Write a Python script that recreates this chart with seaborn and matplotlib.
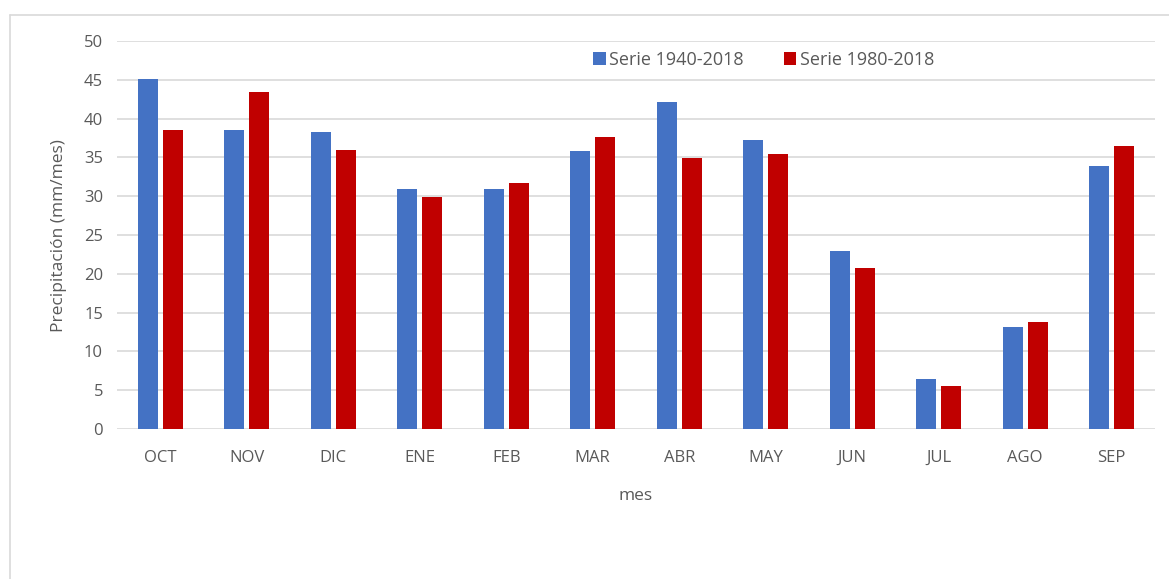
import pandas as pd
import seaborn as sns
import matplotlib.pyplot as plt
from matplotlib.lines import Line2D

# data
meses = ['OCT', 'NOV', 'DIC', 'ENE', 'FEB', 'MAR', 'ABR', 'MAY', 'JUN', 'JUL', 'AGO', 'SEP']
serie_1940 = [45.1, 38.5, 38.3, 31.0, 31.0, 35.8, 42.1, 37.2, 22.9, 6.5, 13.1, 33.9]
serie_1980 = [38.5, 43.5, 36.0, 29.9, 31.7, 37.6, 34.9, 35.4, 20.8, 5.6, 13.8, 36.5]
series = ['Serie 1940-2018', 'Serie 1980-2018']
colores = ['#4472C4', '#C00000']

df = pd.DataFrame({
    'mes': meses * 2,
    'valor': serie_1940 + serie_1980,
    'serie': [series[0]] * len(meses) + [series[1]] * len(meses),
})

sns.set_style('white')
plt.rcParams['font.family'] = ['Open Sans', 'DejaVu Sans']
gris = '#595959'

fig = plt.figure(figsize=(11.69, 5.79), dpi=100)
ax = fig.add_axes([0.1, 0.259, 0.888, 0.67])

sns.barplot(data=df, x='mes', y='valor', hue='serie', palette=colores,
            width=0.58, gap=0.2, ax=ax, saturation=1, edgecolor='none')

ax.set_ylim(0, 50)
ax.set_yticks(range(0, 51, 5))
ax.yaxis.grid(True, color='#D9D9D9', linewidth=1.2)
ax.set_axisbelow(True)
for s in ax.spines.values():
    s.set_visible(False)
ax.tick_params(axis='both', length=0, labelsize=12, colors=gris, pad=10)
ax.tick_params(axis='x', pad=15)
ax.set_xlabel('mes', fontsize=12.5, color=gris, labelpad=16)
ax.set_ylabel('Precipitación (mm/mes)', fontsize=12.5, color=gris, labelpad=12)

ax.legend(loc='center', bbox_to_anchor=(0.623, 0.951), ncol=2, frameon=False,
          fontsize=13, labelcolor=gris, handlelength=0.7, handleheight=0.7,
          handletextpad=0.2, columnspacing=2.2)

# chart border
fig.add_artist(Line2D([10 / 1169, 10 / 1169], [0, 1 - 15 / 579], color='#D9D9D9', lw=1.2))
fig.add_artist(Line2D([10 / 1169, 1], [1 - 15 / 579, 1 - 15 / 579], color='#D9D9D9', lw=1.2))

fig.savefig('out.png', dpi=100)
